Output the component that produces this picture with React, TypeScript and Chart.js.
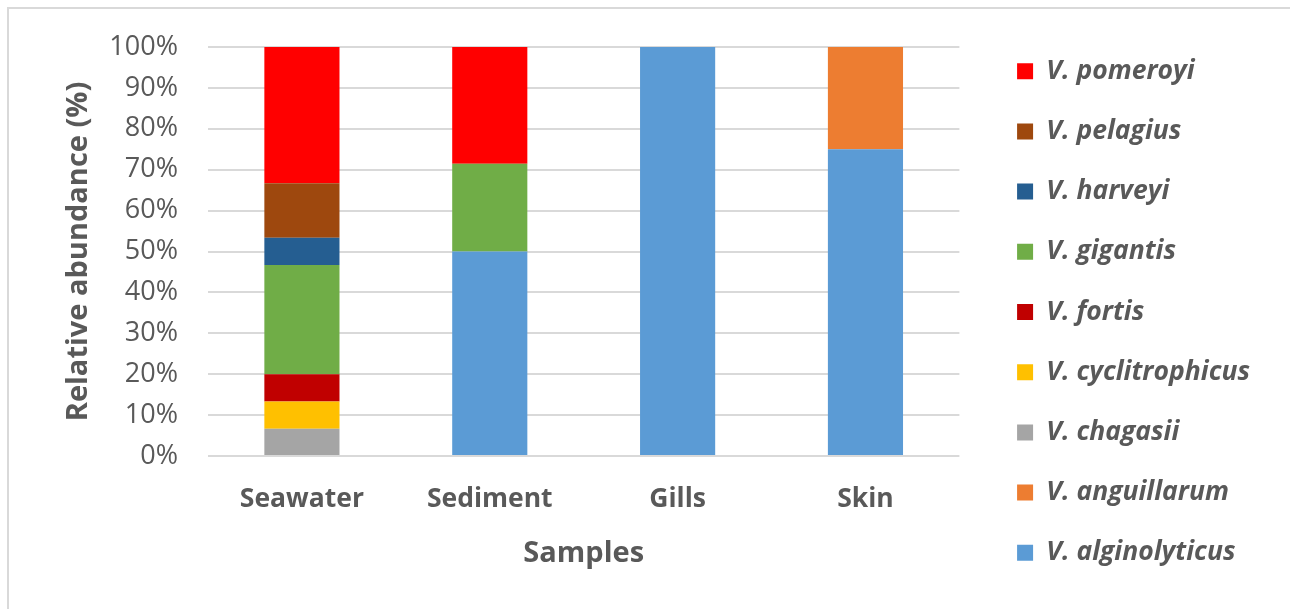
import React, { useEffect, useRef } from "react";
import { Chart, registerables } from "chart.js";

Chart.register(...registerables);

const categories = ["Seawater", "Sediment", "Gills", "Skin"];

const speciesNames = [
  "V. alginolyticus",
  "V. anguillarum",
  "V. chagasii",
  "V. cyclitrophicus",
  "V. fortis",
  "V. gigantis",
  "V. harveyi",
  "V. pelagius",
  "V. pomeroyi",
];

const alginolyticus = [0, 50, 100, 75];
const anguillarum = [0, 0, 0, 25];
const chagasii = [6.67, 0, 0, 0];
const cyclitrophicus = [6.67, 0, 0, 0];
const fortis = [6.67, 0, 0, 0];
const gigantis = [26.67, 21.43, 0, 0];
const harveyi = [6.67, 0, 0, 0];
const pelagius = [13.33, 0, 0, 0];
const pomeroyi = [33.33, 28.57, 0, 0];

const seriesValues = [
  alginolyticus,
  anguillarum,
  chagasii,
  cyclitrophicus,
  fortis,
  gigantis,
  harveyi,
  pelagius,
  pomeroyi,
];

const seriesColors = [
  "#5B9BD5",
  "#ED7D31",
  "#A5A5A5",
  "#FFC000",
  "#C00000",
  "#70AD47",
  "#255E91",
  "#9E480E",
  "#FF0000",
];

const yTicks = [0, 10, 20, 30, 40, 50, 60, 70, 80, 90, 100];

const TEXT = "#595959";
const GRID = "#d9d9d9";
const FAMILY = "'Open Sans', 'DejaVu Sans', sans-serif";

export default function App() {
  const ref = useRef<HTMLCanvasElement | null>(null);

  useEffect(() => {
    if (!ref.current) return;
    const chart = new Chart(ref.current, {
      type: "bar",
      data: {
        labels: categories,
        datasets: speciesNames.map((name, i) => ({
          label: name,
          data: seriesValues[i],
          backgroundColor: seriesColors[i],
          borderWidth: 0,
          barPercentage: 0.4,
          categoryPercentage: 1,
          yAxisID: "y",
        })),
      },
      options: {
        animation: false,
        responsive: true,
        maintainAspectRatio: false,
        layout: { padding: { left: 50, right: 30, top: 15, bottom: 0 } },
        plugins: {
          tooltip: { enabled: false },
          title: {
            display: true,
            text: " ",
            fullSize: false,
            font: { size: 10, lineHeight: 1 },
            padding: { top: 22, bottom: 0 },
          },
          legend: {
            display: true,
            position: "right",
            reverse: true,
            align: "center",
            labels: {
              boxWidth: 16,
              boxHeight: 16,
              padding: 33.7,
              color: TEXT,
              font: { family: FAMILY, size: 26.5, style: "italic", weight: "bold" },
            },
          },
        },
        scales: {
          x: {
            stacked: true,
            grid: { display: false },
            border: { display: false },
            ticks: {
              color: TEXT,
              padding: 20,
              font: { family: FAMILY, size: 26.5, weight: "bold" },
            },
            title: {
              display: true,
              text: "Samples",
              color: TEXT,
              font: { family: FAMILY, size: 29, weight: "bold" },
              padding: { top: 38, bottom: 38 },
            },
            afterFit: (s: any) => {
              s.height = 153;
            },
          },
          y: {
            stacked: true,
            min: 0,
            max: 100,
            grid: { color: GRID, lineWidth: 2, drawTicks: false },
            border: { display: false },
            afterBuildTicks: (s: any) => {
              s.ticks = yTicks.map((v) => ({ value: v }));
            },
            ticks: {
              color: TEXT,
              padding: 30,
              font: { family: FAMILY, size: 27 },
              callback: (v: any) => v + "%",
            },
            title: {
              display: true,
              text: "Relative abundance (%)",
              color: TEXT,
              font: { family: FAMILY, size: 29, weight: "bold" },
              padding: { top: 11, bottom: 11 },
            },
            afterFit: (s: any) => {
              s.width = 158;
            },
          },
          yPad: {
            type: "linear",
            position: "right",
            display: false,
            afterFit: (s: any) => {
              s.width = 24;
            },
          },
        },
      },
    } as any);
    return () => chart.destroy();
  }, []);

  return (
    <div
      style={{
        position: "fixed",
        left: 0,
        top: 0,
        width: 1290,
        height: 609,
        background: "#ffffff",
      }}
    >
      <div
        style={{
          position: "absolute",
          left: 7,
          top: 7,
          right: 0,
          bottom: 0,
          borderTop: `2px solid ${GRID}`,
          borderLeft: `2px solid ${GRID}`,
        }}
      />
      <canvas ref={ref} style={{ position: "absolute", left: 0, top: 0 }} />
    </div>
  );
}
